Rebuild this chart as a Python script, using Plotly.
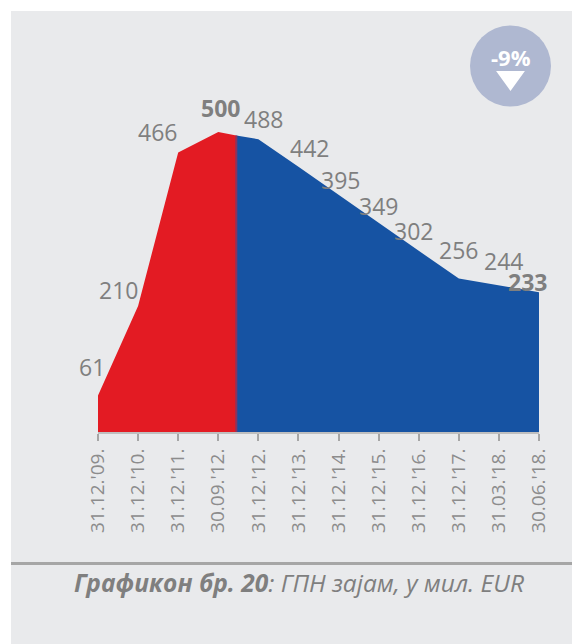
import plotly.graph_objects as go

tick_labels = ["31.12.'09.", "31.12.'10.", "31.12.'11.", "30.09.'12.", "31.12.'12.", "31.12.'13.",
               "31.12.'14.", "31.12.'15.", "31.12.'16.", "31.12.'17.", "31.03.'18.", "30.06.'18."]
values = [61, 210, 466, 500, 488, 442, 395, 349, 302, 256, 244, 233]
red_x = [0, 1, 2, 3, 3.45]
red_y = [61, 210, 466, 500, 494]
blue_x = [3.45, 4, 5, 6, 7, 8, 9, 10, 11]
blue_y = [494, 488, 442, 395, 349, 302, 256, 244, 233]
split_x = [3.45, 3.45]
split_y = [0, 494]
label_dx = [-6, -20, -21, 2, 5, 11, 2, 0, -5, 0, 5, -12]
label_dy = [28, 16, 20, 24, 20, 19, 15, 17, 20, 28, 25, 10]
bold = [False, False, False, True, False, False, False, False, False, False, False, True]

FONT = "Open Sans"
GREY = "#7f7f7f"

fig = go.Figure()
fig.add_trace(go.Scatter(x=red_x, y=red_y, mode="lines", line=dict(width=0), fill="tozeroy",
                         fillcolor="#e31b23", hoverinfo="skip"))
fig.add_trace(go.Scatter(x=blue_x, y=blue_y, mode="lines", line=dict(width=0), fill="tozeroy",
                         fillcolor="#1653a3", hoverinfo="skip"))
fig.add_trace(go.Scatter(x=split_x, y=split_y, mode="lines", line=dict(width=2, color="#8a3560"),
                         hoverinfo="skip"))

for i, (v, dx, dy, b) in enumerate(zip(values, label_dx, label_dy, bold)):
    fig.add_annotation(x=i, y=v, text=f"<b>{v}</b>" if b else str(v), showarrow=False,
                       xanchor="center", yanchor="middle",
                       xshift=dx, yshift=dy, font=dict(family=FONT, size=23, color=GREY))

def px(x):
    return (x - 98) / 441

def py(y):
    return (432 - y) / 300

shapes = [
    dict(type="rect", xref="paper", yref="paper", x0=px(11), x1=px(580), y0=py(650), y1=py(11),
         fillcolor="#e9eaec", line_width=0, layer="below"),
    dict(type="line", xref="paper", yref="paper", x0=px(11), x1=px(580),
         y0=py(563.5), y1=py(563.5), line=dict(color="#a6a6a6", width=3)),
    dict(type="circle", xref="paper", yref="paper", x0=px(470), x1=px(551),
         y0=py(106.5), y1=py(25.5), fillcolor="#afb8d1", line_width=0),
    dict(type="path", xref="paper", yref="paper",
         path="M %f %f L %f %f L %f %f Z" % (px(499), py(72.5), px(522), py(72.5), px(510.5), py(88.5)),
         fillcolor="white", line=dict(color="white", width=3)),
]
fig.add_annotation(xref="paper", yref="paper", x=px(510.5), y=py(57), xanchor="center", yanchor="middle",
                   text="<b>-9%</b>", showarrow=False, font=dict(family=FONT, size=22, color="white"))
fig.add_annotation(xref="paper", yref="paper", x=px(298.5), y=py(582), xanchor="center", yanchor="middle",
                   text="<b><i>Графикон бр. 20</i></b><i>: ГПН зајам, у мил. EUR</i>", showarrow=False,
                   font=dict(family=FONT, size=24.5, color=GREY))

fig.update_layout(
    width=572, height=644, autosize=False, showlegend=False,
    margin=dict(l=98, r=33, t=132, b=212),
    paper_bgcolor="white", plot_bgcolor="rgba(0,0,0,0)",
    shapes=shapes,
    xaxis=dict(range=[0, 11], tickmode="array", tickvals=list(range(12)), ticktext=tick_labels,
               tickangle=-90, ticks="outside", ticklen=7, tickwidth=1.5, tickcolor="#a6a6a6",
               showline=True, linecolor="#bfbfbf", linewidth=2, showgrid=False, zeroline=False,
               tickfont=dict(family=FONT, size=19, color="#8c8c8c")),
    yaxis=dict(range=[0, 500], visible=False, showgrid=False, zeroline=False),
)
fig.write_html("out.html", config={"displayModeBar": False},
               post_script="document.body.style.margin='0';document.documentElement.style.overflow='hidden';")
